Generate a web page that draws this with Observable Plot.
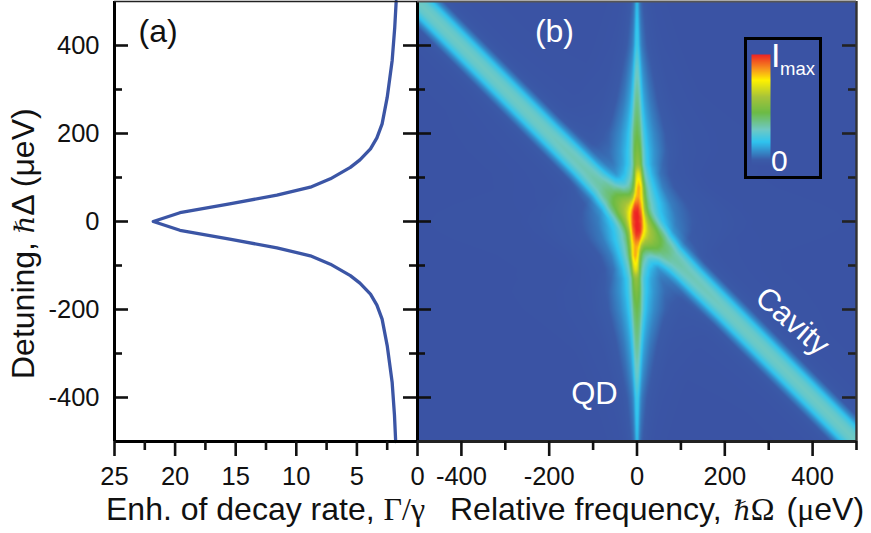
<!DOCTYPE html>
<html><head><meta charset="utf-8">
<script src="https://cdn.jsdelivr.net/npm/d3@7"></script>
<script src="https://cdn.jsdelivr.net/npm/@observablehq/plot@0.6"></script>
<style>
html,body{margin:0;padding:0;background:#fff;width:871px;height:533px;overflow:hidden}
#chart{position:relative;width:871px;height:533px;font-family:"Liberation Sans",Arial,sans-serif}
#chart svg{position:absolute;top:0;background:transparent;overflow:visible}
.t{position:absolute;white-space:nowrap;color:#111;font-size:32px;line-height:32px}
.m{font-family:"Liberation Serif","DejaVu Serif",serif}
.h{font-family:"DejaVu Serif",serif;font-style:italic;font-size:27px}
</style></head><body><div id="chart"></div>
<script>
// Panel (a): enhancement of decay rate against detuning
const detuningA = [500,440,366,282,222,190,165,140,123,97,78,60,40,20,0,-20,-40,-60,-78,-97,-123,-140,-165,-190,-222,-282,-366,-440,-500];
const rateA =     [1.76,1.88,2.09,2.5,2.92,3.35,3.88,4.75,5.54,7.19,8.84,11.6,15.5,19.6,21.8,19.6,15.5,11.6,8.84,7.19,5.54,4.75,3.88,3.35,2.92,2.5,2.09,1.9,1.8];
const ticksA = [25,20,15,10,5,0];
const minorA = [22.5,17.5,12.5,7.5,2.5];
const ticksY = [-400,-200,0,200,400];
const minorY = [-300,-100,100,300];
const ticksB = [-400,-200,0,200,400];
const minorB = [-300,-100,100,300,500];

// Panel (b): readings of the map. Cavity band cross-section
const cavOffset = [0,15,30,45,60,80,110,160,260,1000];
const cavLevel  = [.33,.31,.24,.13,.055,.025,.012,.005,0,0];
// QD stripe readings by |detuning|
const qdDet   = [0,20,40,77,109,130,160,200,275,350,400,500];
const qdPeak  = [.68,.72,.78,.83,.72,.57,.52,.47,.40,.32,.25,.20];
const qdWidth = [18,17,15,11,10,11.5,13,13,10,8,7,5];
const qdShift = [0,1,3,4,3,2,1,0,0,0,0,0];
// Normalised QD stripe cross-section
const qdU     = [0,.5,1,1.5,2,3,5,8,15,40,5000];
const qdShape = [1,.92,.62,.46,.38,.27,.13,.05,.01,0,0];

// Colour scale
const levels = [0,.06,.22,.33,.48,.62,.77,.87,1];
const colors = ["#3a53a4","#3a5ba8","#2fc4ef","#6fc9c4","#6cbb45","#a6c33a","#fff200","#f7941d","#ed2224"];

const look = (xs, ys, v) => {
  const i = Math.min(d3.bisectRight(xs, v), xs.length - 1);
  if (i === 0) return ys[0];
  const t = (v - xs[i-1]) / (xs[i] - xs[i-1]);
  return ys[i-1] + (ys[i] - ys[i-1]) * Math.min(t, 1);
};
const field = (x, y) => {
  const s = y < 0 ? -1 : 1, X = x * s, Y = y * s;
  const cav = look(cavOffset, cavLevel, Math.abs(X + Y));
  const u = Math.abs(X - look(qdDet, qdShift, Y)) / look(qdDet, qdWidth, Y);
  return Math.min(1, cav + look(qdDet, qdPeak, Y) * look(qdU, qdShape, u));
};

const FONT = '"Liberation Sans",Arial,sans-serif';
const color = {type:"linear", domain:levels, range:colors, clamp:true};
const tickCol = "#111";
const T = 25.5;
const blank = () => "";

const commonY = {domain:[-500,500]};
const panelA = Plot.plot({
  width:432, height:533, marginLeft:114, marginRight:15, marginTop:1, marginBottom:92,
  style:{fontFamily:FONT, background:"transparent", color:tickCol},
  x:{domain:[25,0], label:null}, y:{...commonY, label:null},
  marks:[
    Plot.line(detuningA,{x:(d,i)=>rateA[i], y:d=>d, stroke:"#3b55a5", strokeWidth:3.3}),
    Plot.tickY(ticksY,{y:d=>d, insetRight:289, stroke:tickCol, strokeWidth:2.6}),
    Plot.tickY(minorY,{y:d=>d, insetRight:295, stroke:tickCol, strokeWidth:2.6}),
    Plot.tickY(ticksY,{y:d=>d, insetLeft:289, stroke:tickCol, strokeWidth:2.6}),
    Plot.tickY(minorY,{y:d=>d, insetLeft:295, stroke:tickCol, strokeWidth:2.6}),
    Plot.ruleX([25],{stroke:"#000", strokeWidth:3}),
    Plot.ruleY([-500],{stroke:"#000", strokeWidth:3}),
    Plot.ruleY([500],{stroke:"#222", strokeWidth:1.6}),
    Plot.axisY({ticks:ticksY, tickSize:0, tickPadding:15, fontSize:T, tickFormat:d=>String(d), label:null}),
    Plot.axisX({ticks:ticksA, tickSize:15, tickPadding:10, fontSize:T, strokeWidth:2.6, tickFormat:d=>String(d), label:null}),
    Plot.axisX({ticks:minorA, tickSize:9, tickFormat:blank, strokeWidth:2.6, label:null}),
    Plot.text(["(a)"],{x:()=>21.4, y:()=>432, text:d=>d, fontSize:32, fill:"#111"})
  ]
});
panelA.style.left = "0px";

const panelB = Plot.plot({
  width:471, height:533, marginLeft:17, marginRight:15, marginTop:1, marginBottom:92,
  style:{fontFamily:FONT, background:"transparent", color:tickCol},
  x:{domain:[-500,500], label:null}, y:{...commonY, label:null}, color,
  marks:[
    Plot.raster({x1:-500,x2:500,y1:-500,y2:500,pixelSize:1,fill:field}),
    Plot.tickY(ticksY,{y:d=>d, insetRight:425, stroke:tickCol, strokeWidth:2.6}),
    Plot.tickY(minorY,{y:d=>d, insetRight:431, stroke:tickCol, strokeWidth:2.6}),
    Plot.tickY(ticksY,{y:d=>d, insetLeft:425, stroke:"#222", strokeWidth:2.6}),
    Plot.tickY(minorY,{y:d=>d, insetLeft:431, stroke:"#222", strokeWidth:2.6}),
    Plot.ruleX([-500],{stroke:"#000", strokeWidth:3}),
    Plot.ruleX([500],{stroke:"#333", strokeWidth:2.4}),
    Plot.ruleY([-500],{stroke:"#222", strokeWidth:3}),
    Plot.ruleY([500],{stroke:"#555", strokeWidth:2}),
    Plot.axisX({ticks:ticksB, tickSize:15, tickPadding:10, fontSize:T, strokeWidth:2.6, tickFormat:d=>String(d), label:null}),
    Plot.axisX({ticks:minorB, tickSize:9, tickFormat:blank, strokeWidth:2.6, label:null}),
    Plot.axisY({ticks:[], label:null}),
    Plot.text(["(b)"],{x:()=>-188, y:()=>432, text:d=>d, fontSize:32, fill:"#fff"}),
    Plot.text(["QD"],{x:()=>-97, y:()=>-393, text:d=>d, fontSize:31, fill:"#fff"}),
    Plot.text(["Cavity"],{x:()=>354, y:()=>-227, text:d=>d, fontSize:31, fill:"#fff", rotate:41})
  ]
});
panelB.style.left = "400px";

// Inset colour bar
const legendBar = Plot.plot({
  width:19, height:112, margin:0, x:{axis:null, domain:[0,1]}, y:{axis:null, domain:[0,1]}, color,
  style:{background:"transparent"},
  marks:[Plot.raster({x1:0,x2:1,y1:0,y2:1,pixelSize:1,fill:(x,y)=>y})]
});
legendBar.style.cssText += ";left:751px;top:54px";

const root = document.getElementById("chart");
root.append(panelA, panelB, legendBar);
const add = (html, css, cls="t") => {
  const e = document.createElement("div");
  e.className = cls; e.innerHTML = html; e.style.cssText = css; root.append(e);
  return e;
};
add("", "position:absolute;left:744px;top:37px;width:72px;height:136px;border:3px solid #000", "");
add("I", "left:771px;top:40px;font-size:34px;line-height:30px;color:#fff");
add("max", "left:780px;top:54px;font-size:18.5px;line-height:30px;color:#fff");
add("0", "left:771px;top:146px;font-size:30px;line-height:30px;color:#fff");
add('Enh. of decay rate, <span class="m">Γ/γ</span>', "left:106px;top:493px");
add('Relative frequency, <span class="h" style="margin-left:3px">ℏ</span><span class="m">Ω</span> <span style="margin-left:3px">(</span><span class="m">μ</span>eV)', "left:450px;top:493px");
add('Detuning, <span class="h">ℏ</span>Δ (μeV)', "left:7px;top:379px;transform-origin:0 0;transform:rotate(-90deg)");
</script></body></html>
